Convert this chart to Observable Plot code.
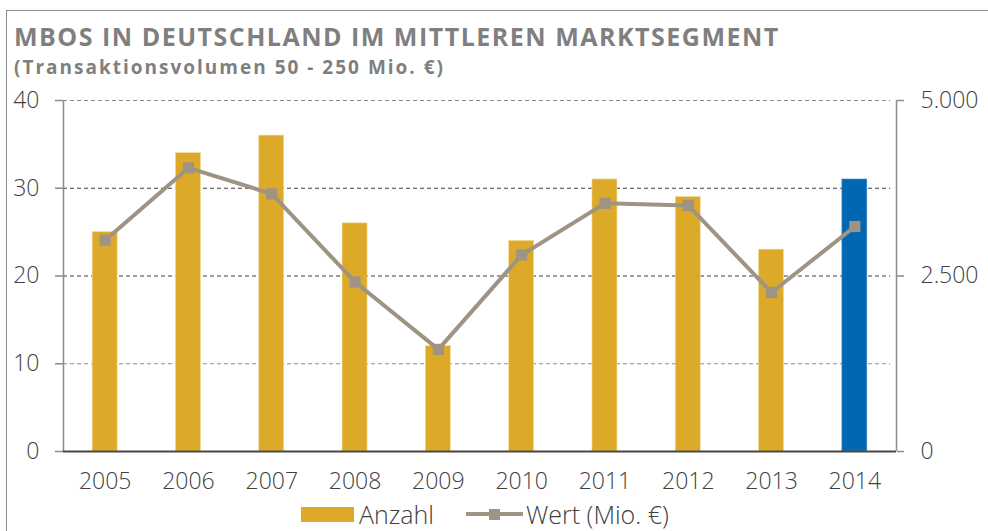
<!DOCTYPE html>
<html><head><meta charset="utf-8">
<script src="https://cdn.jsdelivr.net/npm/d3@7"></script>
<script src="https://cdn.jsdelivr.net/npm/@observablehq/plot@0.6"></script>
<style>
html,body{margin:0;padding:0;background:#fff;width:988px;height:531px;overflow:hidden;font-family:"Open Sans",sans-serif;}
#frame{position:absolute;left:6px;top:10px;width:1000px;height:600px;border:1.5px solid #8c8c8c;box-sizing:border-box;}
#title{position:absolute;left:14px;top:19px;font-weight:700;font-size:25px;color:#7f7f7f;white-space:nowrap;letter-spacing:1.5px;}
#subtitle{position:absolute;left:14px;top:54px;font-weight:700;font-size:19px;color:#7f7f7f;white-space:nowrap;letter-spacing:2px;}
#chart{position:absolute;left:0;top:76px;}
#chart svg{overflow:visible;}
#legend{position:absolute;left:301px;top:497px;display:flex;align-items:center;font-size:25px;color:#404040;font-weight:300;white-space:nowrap;}
.sw{display:inline-block;}
</style></head><body>
<div id="frame"></div>
<div id="title">MBOS IN DEUTSCHLAND IM MITTLEREN MARKTSEGMENT</div>
<div id="subtitle">(Transaktionsvolumen 50 - 250 Mio. €)</div>
<div id="chart"></div>
<div id="legend">
  <span class="sw" style="width:53px;height:15px;background:#dcaa28;margin-right:5px"></span><span>Anzahl</span>
  <span class="sw" style="position:relative;width:57px;height:15px;margin-left:32px;margin-right:3px">
    <span style="position:absolute;left:0;top:5.5px;width:57px;height:4px;background:#9f9384"></span>
    <span style="position:absolute;left:23px;top:2px;width:11px;height:11px;background:#9f9384"></span>
  </span><span>Wert (Mio. €)</span>
</div>
<script>
const years = [2005, 2006, 2007, 2008, 2009, 2010, 2011, 2012, 2013, 2014];
const anzahl = [25, 34, 36, 26, 12, 24, 31, 29, 23, 31];
const wert = [3010, 4040, 3670, 2415, 1455, 2800, 3535, 3505, 2265, 3205];
const leftTicks = [0, 10, 20, 30, 40];
const rightTicks = [0, 2500, 5000];
const rightTickLabels = ["0", "2.500", "5.000"];
const gridValues = [10, 20, 30, 40];

const WMAX = 5000, YMAX = 40;
const toLeft = v => v / WMAX * YMAX;
const data = years.map((y, i) => ({year: y, anzahl: anzahl[i], wert: wert[i]}));

const gold = "#dcaa28", blue = "#0067b2", lineCol = "#9f9384", axisCol = "#8c8c8c", textCol = "#404040";
const rightPos = rightTicks.map(toLeft);

const chart = Plot.plot({
  width: 988, height: 424,
  marginLeft: 63, marginRight: 92, marginTop: 24, marginBottom: 49,
  style: {fontFamily: "Open Sans, sans-serif", fontSize: "23px", color: textCol, fontWeight: 300, background: "transparent"},
  x: {domain: [2004.5, 2014.5], axis: null},
  y: {domain: [0, YMAX], axis: null},
  marks: [
    Plot.ruleY(gridValues, {stroke: d => (d === 20 || d === 30) ? "#3c3c3c" : "#8a8a8a", strokeDasharray: "4,3", strokeWidth: 1.2, x1: 2004.5, x2: 2014.43}),
    Plot.rectY(data, {x1: d => d.year - 0.15, x2: d => d.year + 0.15, y: "anzahl", fill: d => d.year === 2014 ? blue : gold, stroke: d => d.year === 2014 ? "#5a9bd0" : "#f2dc9c", strokeWidth: 0.6}),
    Plot.ruleX([2004.5, 2014.5], {y1: 0, y2: YMAX, stroke: axisCol, strokeWidth: 1.5}),
    Plot.ruleY([0], {stroke: "#4a4540", strokeWidth: 2}),
    Plot.line(data, {x: "year", y: d => toLeft(d.wert), stroke: lineCol, strokeWidth: 4}),
    Plot.dot(data, {x: "year", y: d => toLeft(d.wert), symbol: "square", r: 6.3, fill: lineCol, stroke: null}),
    Plot.axisY({anchor: "left", label: null, ticks: leftTicks, tickSize: 8, tickPadding: 16, stroke: axisCol, strokeWidth: 1.5, fill: textCol, tickFormat: d => String(d)}),
    Plot.axisY({anchor: "right", label: null, ticks: rightPos, tickSize: 7, tickPadding: 17, stroke: axisCol, strokeWidth: 1.5, fill: textCol, tickFormat: d => rightTickLabels[rightPos.indexOf(d)]}),
    Plot.axisX({label: null, ticks: years, tickSize: 0, tickPadding: 21, fill: textCol, tickFormat: d => String(d)})
  ]
});
document.getElementById("chart").appendChild(chart);
</script>
</body></html>
